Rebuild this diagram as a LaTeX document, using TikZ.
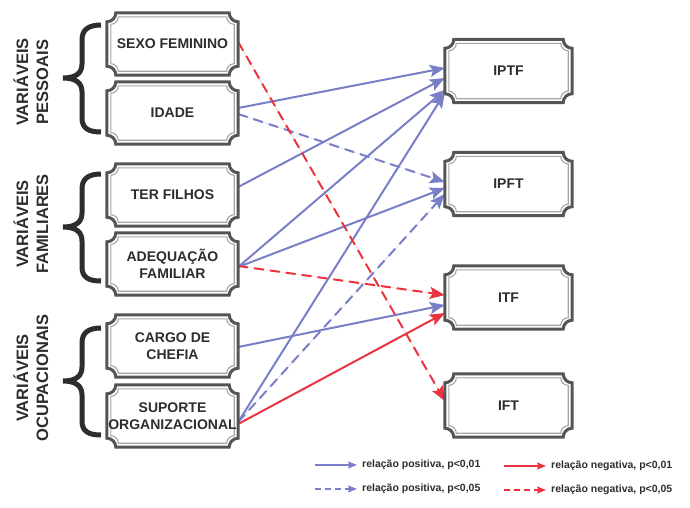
\documentclass[tikz,border=0pt]{standalone}
\usepackage{fontspec}
\setmainfont{Liberation Sans}
\usetikzlibrary{arrows.meta,calc}
\definecolor{pblue}{RGB}{120,127,198}
\definecolor{nred}{RGB}{233,52,64}
\definecolor{dgray}{RGB}{85,85,85}
\definecolor{lgray}{RGB}{165,165,165}
\definecolor{txtc}{RGB}{45,45,45}
\pgfdeclarelayer{arrowlayer}
\pgfdeclarelayer{boxlayer}
\pgfsetlayers{arrowlayer,boxlayer,main}
\def\tkR{9pt}\def\tkK{5pt}\def\tkD{4pt}\def\tkRi{7.5pt}\def\tkKi{4.1pt}
\newcommand\tktdraw[1]{%
  \draw[tktouter] let \p1=(#1.north west), \p2=(#1.south east) in
    ({\x1+\tkR},\y1) -- ({\x2-\tkR},\y1) .. controls ({\x2-\tkR},{\y1-\tkK}) and ({\x2-\tkK},{\y1-\tkR}) .. (\x2,{\y1-\tkR})
    -- (\x2,{\y2+\tkR}) .. controls ({\x2-\tkK},{\y2+\tkR}) and ({\x2-\tkR},{\y2+\tkK}) .. ({\x2-\tkR},\y2)
    -- ({\x1+\tkR},\y2) .. controls ({\x1+\tkR},{\y2+\tkK}) and ({\x1+\tkK},{\y2+\tkR}) .. (\x1,{\y2+\tkR})
    -- (\x1,{\y1-\tkR}) .. controls ({\x1+\tkK},{\y1-\tkR}) and ({\x1+\tkR},{\y1-\tkK}) .. ({\x1+\tkR},\y1) -- cycle;
  \draw[tktinner] let \p1=([shift={(\tkD,-\tkD)}]#1.north west), \p2=([shift={(-\tkD,\tkD)}]#1.south east) in
    ({\x1+\tkRi},\y1) -- ({\x2-\tkRi},\y1) .. controls ({\x2-\tkRi},{\y1-\tkKi}) and ({\x2-\tkKi},{\y1-\tkRi}) .. (\x2,{\y1-\tkRi})
    -- (\x2,{\y2+\tkRi}) .. controls ({\x2-\tkKi},{\y2+\tkRi}) and ({\x2-\tkRi},{\y2+\tkKi}) .. ({\x2-\tkRi},\y2)
    -- ({\x1+\tkRi},\y2) .. controls ({\x1+\tkRi},{\y2+\tkKi}) and ({\x1+\tkKi},{\y2+\tkRi}) .. (\x1,{\y2+\tkRi})
    -- (\x1,{\y1-\tkRi}) .. controls ({\x1+\tkKi},{\y1-\tkRi}) and ({\x1+\tkRi},{\y1-\tkKi}) .. ({\x1+\tkRi},\y1) -- cycle;
}
\newcommand\brcdraw[1]{%
  \draw[brc, shift={(0,#1)}] (101,-53) .. controls (88,-53) and (82,-48) .. (82,-38) -- (82,-14)
    .. controls (82,-5) and (76,0) .. (63,0) .. controls (76,0) and (82,5) .. (82,14) -- (82,40)
    .. controls (82,50) and (88,54) .. (101,54);
}
\tikzset{
  tktouter/.style={draw=dgray, line width=3pt, fill=white},
  tktinner/.style={draw=lgray, line width=1.1pt},
  tktbox/.style={minimum width=131pt, minimum height=62pt, inner sep=0pt, align=center, text=txtc,
    font=\bfseries\fontsize{14}{17.5}\selectfont},
  rbox/.style={tktbox, minimum width=127pt, minimum height=63pt},
  grplabel/.style={rotate=90, align=center, text=txtc, font=\bfseries\fontsize{16.5}{20}\selectfont},
  brc/.style={draw=txtc, line width=5pt},
  arrpos/.style={draw=pblue, line width=2pt, -{Stealth[length=15pt,width=12pt,inset=3pt]}, fill=pblue},
  arrposd/.style={arrpos, dash pattern=on 10pt off 6pt},
  arrneg/.style={draw=nred, line width=2pt, -{Stealth[length=15pt,width=12pt,inset=3pt]}, fill=nred},
  arrnegd/.style={arrneg, dash pattern=on 10pt off 6pt},
  legpos/.style={draw=pblue, line width=1.5pt, -{Stealth[length=9pt,width=7pt,inset=1.5pt]}},
  legneg/.style={draw=nred, line width=1.5pt, -{Stealth[length=9pt,width=7pt,inset=1.5pt]}},
  legtext/.style={anchor=west, inner sep=0pt, text=txtc, font=\bfseries\fontsize{10.5}{12}\selectfont}
}
\begin{document}
\begin{tikzpicture}[x=1pt,y=-1pt]
\useasboundingbox (0,0) rectangle (690,507);
% left boxes
\node[tktbox] (sexo) at (172.5,44) {SEXO FEMININO};
\node[tktbox] (idade) at (172.5,113) {IDADE};
\node[tktbox] (ter) at (172.5,195) {TER FILHOS};
\node[tktbox] (adeq) at (172.5,264) {ADEQUAÇÃO\\FAMILIAR};
\node[tktbox] (cargo) at (172.5,346) {CARGO DE\\CHEFIA};
\node[tktbox] (sup) at (172.5,416) {SUPORTE\\ORGANIZACIONAL};
% right boxes
\node[rbox] (iptf) at (508.5,71) {IPTF};
\node[rbox] (ipft) at (508.5,184) {IPFT};
\node[rbox] (itf) at (508.5,297.5) {ITF};
\node[rbox] (ift) at (508.5,405.5) {IFT};
\begin{pgfonlayer}{boxlayer}
\foreach \bx in {sexo,idade,ter,adeq,cargo,sup,iptf,ipft,itf,ift}{\tktdraw{\bx}}
\end{pgfonlayer}
% group labels and braces
\node[grplabel] (g1) at (31,82) {VARIÁVEIS\\PESSOAIS};
\node[grplabel] (g2) at (31,224) {VARIÁVEIS\\FAMILIARES};
\node[grplabel] (g3) at (31,378) {VARIÁVEIS\\OCUPACIONAIS};
\brcdraw{78}
\brcdraw{227}
\brcdraw{381}
% connectors
\begin{pgfonlayer}{arrowlayer}
\draw[arrpos] ([yshift=5pt]idade.east) -- ([yshift=3pt]iptf.west);
\draw[arrpos] ([yshift=8pt]ter.east) -- ([yshift=-7pt]iptf.west);
\draw[arrpos] ([yshift=-3pt]adeq.east) -- ([yshift=-19pt]iptf.west);
\draw[arrpos] ([yshift=-6pt]sup.east) -- ([yshift=-22pt]iptf.west);
\draw[arrpos] ([yshift=-3pt]adeq.east) -- ([yshift=-4pt]ipft.west);
\draw[arrposd] ([yshift=-1pt]idade.east) -- ([yshift=2pt]ipft.west);
\draw[arrposd] ([yshift=-6pt]sup.east) -- ([yshift=-10pt]ipft.west);
\draw[arrpos] ([yshift=-1pt]cargo.east) -- ([yshift=-7.5pt]itf.west);
\draw[arrnegd] ([yshift=-2pt]adeq.east) -- ([yshift=2.5pt]itf.west);
\draw[arrneg] ([yshift=-8pt]sup.east) -- ([yshift=-15.5pt]itf.west);
\draw[arrnegd] ([yshift=2pt]sexo.east) -- ([yshift=4.5pt]ift.west);
\end{pgfonlayer}
% legend
\coordinate (l1a) at (315,465); \coordinate (l1b) at (357,465);
\coordinate (l2a) at (315,489); \coordinate (l2b) at (357,489);
\coordinate (l3a) at (504,466); \coordinate (l3b) at (546,466);
\coordinate (l4a) at (504,490); \coordinate (l4b) at (546,490);
\draw[legpos] (l1a) -- (l1b);
\draw[legpos, dash pattern=on 6pt off 4pt] (l2a) -- (l2b);
\draw[legneg] (l3a) -- (l3b);
\draw[legneg, dash pattern=on 6pt off 4pt] (l4a) -- (l4b);
\node[legtext] (t1) at (362,465) {relação positiva, p<0,01};
\node[legtext] (t2) at (362,489) {relação positiva, p<0,05};
\node[legtext] (t3) at (551,466) {relação negativa, p<0,01};
\node[legtext] (t4) at (551,490) {relação negativa, p<0,05};
\end{tikzpicture}
\end{document}
